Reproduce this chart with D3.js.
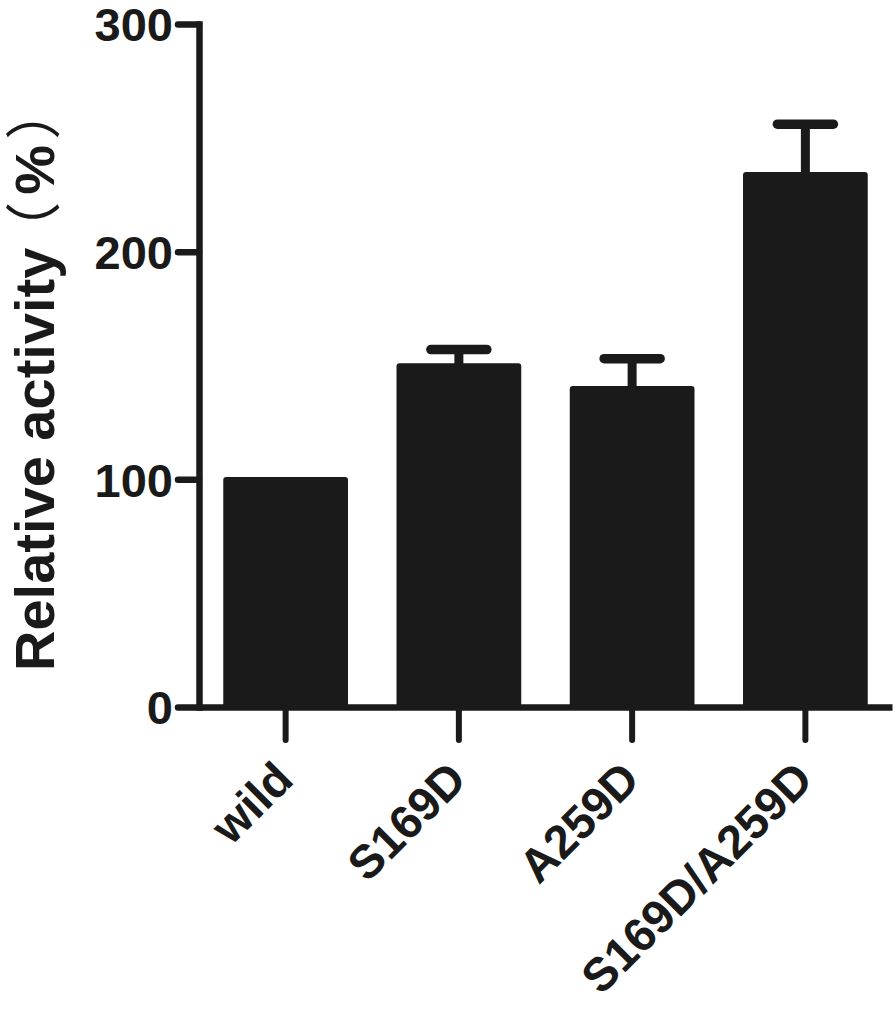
<!DOCTYPE html>
<html>
<head>
<meta charset="utf-8">
<script src="https://cdn.jsdelivr.net/npm/d3@7"></script>
<style>
  html, body { margin: 0; padding: 0; background: #fff; }
  svg { display: block; }
</style>
</head>
<body>
<svg id="chart" width="896" height="1015"></svg>
<script>
// ---- data ----
const categories = ["wild", "S169D", "A259D", "S169D/A259D"];
const means = [101, 151, 141, 235];
const errors = [0, 6, 12, 21];
const yTicks = [0, 100, 200, 300];
const yTitle = "Relative activity";

const ink = "#1a1a1a";
const font = "'Liberation Sans', Arial, Helvetica, sans-serif";
const cjk = "'Noto Sans CJK SC', 'Liberation Sans', sans-serif";

const svg = d3.select("#chart");
const x0 = 199, x1 = 892, yBase = 707, yTop = 24;

const x = d3.scaleBand().domain(categories).range([x0, x1])
  .paddingInner(0.28).paddingOuter(0.14);
const y = d3.scaleLinear().domain([0, 300]).range([yBase, yTop]);

// bars
svg.append("g").selectAll("rect").data(categories).join("rect")
  .attr("x", d => x(d))
  .attr("width", x.bandwidth())
  .attr("y", (d, i) => y(means[i]))
  .attr("height", (d, i) => yBase - y(means[i]))
  .attr("rx", 3).attr("ry", 3)
  .attr("fill", ink);

// error bars (upper only)
const eb = svg.append("g").attr("stroke", ink).attr("stroke-linecap", "round");
categories.forEach((c, i) => {
  if (errors[i] <= 0) return;
  const cx = x(c) + x.bandwidth() / 2;
  const yt = y(means[i] + errors[i]);
  eb.append("line").attr("x1", cx).attr("x2", cx)
    .attr("y1", y(means[i]) + 2).attr("y2", yt)
    .attr("stroke-width", 9).attr("stroke-linecap", "butt");
  eb.append("line").attr("x1", cx - 28).attr("x2", cx + 28)
    .attr("y1", yt).attr("y2", yt).attr("stroke-width", 9.5);
});

// y axis
const gy = svg.append("g").attr("transform", `translate(${x0},0)`)
  .call(d3.axisLeft(y).tickValues(yTicks).tickSize(21).tickSizeOuter(0).tickPadding(5));
gy.select(".domain").attr("stroke", ink).attr("stroke-width", 6.5).attr("stroke-linecap", "square");
gy.selectAll(".tick line").attr("stroke", ink).attr("stroke-width", 6.5).attr("stroke-linecap", "round");
gy.selectAll(".tick text")
  .attr("fill", ink).attr("font-family", font).attr("font-weight", "bold")
  .attr("font-size", 47).attr("dy", "0.36em");

// x axis
const gx = svg.append("g").attr("transform", `translate(0,${yBase})`)
  .call(d3.axisBottom(x).tickSize(33).tickSizeOuter(0));
gx.select(".domain").attr("stroke", ink).attr("stroke-width", 6.5);
gx.selectAll(".tick line").attr("stroke", ink).attr("stroke-width", 6).attr("stroke-linecap", "round");
gx.selectAll(".tick text")
  .attr("fill", ink).attr("font-family", font).attr("font-weight", "bold")
  .attr("font-size", 47).attr("text-anchor", "end")
  .attr("x", null).attr("y", null).attr("dy", null)
  .attr("transform", "translate(10,75) rotate(-45)");

// y title
const t = svg.append("text")
  .attr("transform", "translate(54,671) rotate(-90)")
  .attr("fill", ink).attr("font-family", font).attr("font-size", 56).attr("font-weight", "bold");
t.append("tspan").text(yTitle);
t.append("tspan").attr("font-family", cjk).attr("font-weight", "normal").attr("dx", -10).text("（");
t.append("tspan").attr("font-weight", "bold").attr("dx", 7).text("%");
t.append("tspan").attr("font-family", cjk).attr("font-weight", "normal").attr("dx", 5).text("）");
</script>
</body>
</html>
